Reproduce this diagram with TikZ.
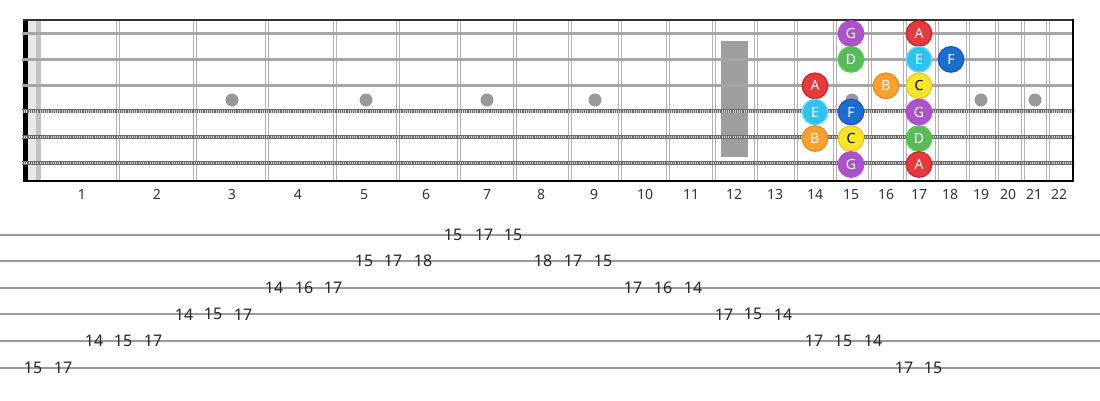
\documentclass[tikz,border=0pt]{standalone}
\usepackage{fontspec}
\setmainfont{Noto Sans}
\definecolor{Gc}{HTML}{A855C8}\definecolor{Gr}{HTML}{C43FE0}
\definecolor{Ac}{HTML}{E8393E}\definecolor{Ar}{HTML}{C92530}
\definecolor{Dc}{HTML}{5CB85A}\definecolor{Dr}{HTML}{3ED93E}
\definecolor{Ec}{HTML}{2DC3EE}\definecolor{Er}{HTML}{66DAF8}
\definecolor{Fc}{HTML}{1A6FC8}\definecolor{Fr}{HTML}{1F4FD6}
\definecolor{Bc}{HTML}{F7A12F}\definecolor{Br}{HTML}{EE8A1E}
\definecolor{Cc}{HTML}{F7E52A}\definecolor{Cr}{HTML}{E6CF18}
\begin{document}
\begin{tikzpicture}[x=1pt,y=-1pt,
  fretline/.style={line width=4.2pt, draw=black!30},
  fretgap/.style={line width=1.6pt, draw=white},
  plainstr/.style={line width=2.6pt, draw=black!35},
  woundbase/.style={line width=4.4pt, draw=black!58},
  woundtex/.style={line width=2.6pt, draw=black!18, dash pattern=on 0.9pt off 1.3pt},
  inlay/.style={circle, fill=black!40, minimum size=13pt, inner sep=0pt},
  note/.style={circle, minimum size=25.5pt, inner sep=0pt, font=\fontsize{14}{14}\selectfont, text=white, line width=1.3pt},
  fretnum/.style={font=\fontsize{14}{14}\selectfont, text=black!80, inner sep=0pt},
  tabnum/.style={font=\fontsize{16}{16}\selectfont, text=black!85, inner sep=0pt},
  tabline/.style={line width=2pt, draw=black!40}]
\useasboundingbox[fill=white] (0,0) rectangle (1100,400);
% nut
\fill[black] (23,20) rectangle (28,181);
\fill[black!9] (28,20) rectangle (36,181);
\fill[black!24] (36,20) rectangle (41,181);
% frets
\foreach \f in {118,195,267,335,398,459,515,570,620,668,714,756,796,835,870,905,937,968,997,1023,1048}{
  \draw[fretline] (\f,20) -- (\f,180.5);
  \draw[fretgap] (\f,20) -- (\f,180.5);
}
% 12th fret marker
\fill[black!38] (721,41) rectangle (748,157);
% inlays
\foreach \x [count=\i] in {232,366,487,595,852,981,1035}
  \node[inlay] (dot\i) at (\x,100) {};
% strings
\foreach \y in {33.5,59.4,85.3}
  \draw[plainstr] (22,\y) -- (1074,\y);
\foreach \y in {111.2,137.1,163}{
  \draw[woundbase] (22,\y) -- (1074,\y);
  \draw[woundtex] (22,\y) -- (1074,\y);
}
% borders
\draw[black!80, line width=1.5pt] (23,20) -- (1074,20);
\draw[black, line width=1.6pt] (23,180.7) -- (1074,180.7);
\draw[black, line width=2pt] (1073,19.3) -- (1073,181.5);
% notes
\node[note, fill=Gc, draw=Gr] (g1) at (851,33.5) {G};
\node[note, fill=Ac, draw=Ar] (a1) at (919,33.5) {A};
\node[note, fill=Dc, draw=Dr] (d2) at (851,59.4) {D};
\node[note, fill=Ec, draw=Er] (e2) at (919,59.4) {E};
\node[note, fill=Fc, draw=Fr] (f2) at (951,59.4) {F};
\node[note, fill=Ac, draw=Ar] (a3) at (815,85.8) {A};
\node[note, fill=Bc, draw=Br] (b3) at (886,85.8) {B};
\node[note, fill=Cc, draw=Cr, text=black] (c3) at (919,85.8) {C};
\node[note, fill=Ec, draw=Er] (e4) at (815,112) {E};
\node[note, fill=Fc, draw=Fr] (f4) at (851,112) {F};
\node[note, fill=Gc, draw=Gr] (g4) at (919,112) {G};
\node[note, fill=Bc, draw=Br] (b5) at (815,138.5) {B};
\node[note, fill=Cc, draw=Cr, text=black] (c5) at (851,138.5) {C};
\node[note, fill=Dc, draw=Dr] (d5) at (919,138.5) {D};
\node[note, fill=Gc, draw=Gr] (g6) at (851,164.5) {G};
\node[note, fill=Ac, draw=Ar] (a6) at (919,164.5) {A};
% fret numbers
\foreach \x [count=\i] in {82,157,232,298,364,426,487,541,594,645,691,734,775,815,851,886,919,950,981,1008,1034,1059}
  \node[fretnum] (fn\i) at (\x,194.5) {\i};
% tab lines
\foreach \s in {1,...,6}
  \draw[tabline] (0,{234.5+26.6*(\s-1)}) -- (1100,{234.5+26.6*(\s-1)});
% tab numbers
\foreach \x/\s/\t [count=\i] in {33/6/15, 63/6/17, 94/5/14, 123/5/15, 153/5/17, 184/4/14, 213/4/15, 243/4/17, 274/3/14, 304/3/16, 333/3/17, 364/2/15, 393/2/17, 423/2/18, 453/1/15, 484/1/17, 513/1/15, 543/2/18, 573/2/17, 603/2/15, 633/3/17, 663/3/16, 693/3/14, 724/4/17, 753/4/15, 783/4/14, 814/5/17, 843/5/15, 873/5/14, 904/6/17, 933/6/15}
  \node[tabnum] (t\i) at (\x,{234.5+26.6*(\s-1)}) {\t};
\end{tikzpicture}
\end{document}
